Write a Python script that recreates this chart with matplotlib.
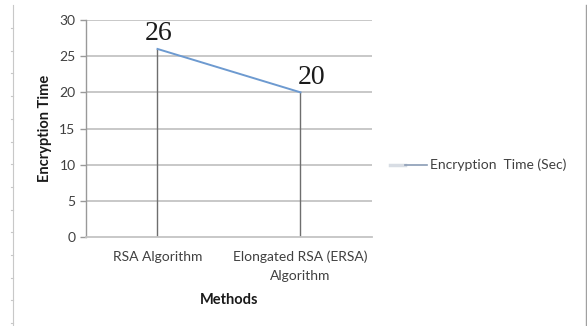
import matplotlib
matplotlib.use('Agg')
import matplotlib.pyplot as plt
from matplotlib.lines import Line2D

methods = ['RSA Algorithm', 'Elongated RSA (ERSA)\nAlgorithm']
enc_time = [26, 20]
y_ticks = [0, 5, 10, 15, 20, 25, 30]
series_name = 'Encryption  Time (Sec)'

plt.rcParams['font.family'] = ['Lato', 'DejaVu Sans']

fig = plt.figure(figsize=(5.87, 3.26), dpi=100)
ax = fig.add_axes([0.1465, 0.273, 0.4872, 0.6656])

x = list(range(len(methods)))

for yv in y_ticks[1:]:
    ax.axhline(yv, color='#c4c4c4', linewidth=1.3, zorder=1)

# drop lines from the points to the axis
ax.vlines(x, 0, enc_time, color='#6e6e6e', linewidth=1.0, zorder=2)
ax.plot(x, enc_time, color='#6d9ad0', linewidth=1.4, zorder=3)

ax.annotate(str(enc_time[0]), (x[0], enc_time[0]), xytext=(1, 2), textcoords='offset points',
            ha='center', va='bottom', fontsize=20, family='Liberation Serif', color='#1a1a1a')
ax.annotate(str(enc_time[1]), (x[1], enc_time[1]), xytext=(8, 2), textcoords='offset points',
            ha='center', va='bottom', fontsize=20, family='Liberation Serif', color='#1a1a1a')

ax.set_xlim(-0.5, 1.5)
ax.set_ylim(0, 30)
ax.set_yticks(y_ticks)
ax.set_xticks(x)
ax.set_xticklabels(methods, fontsize=10, color='#404040', linespacing=1.65)
ax.tick_params(axis='y', labelsize=10, labelcolor='#404040', color='#999999', length=4, width=1.0)
ax.tick_params(axis='x', length=0, pad=10)

for s in ['top', 'right']:
    ax.spines[s].set_visible(False)
ax.spines['left'].set_color('#999999')
ax.spines['bottom'].set_color('#c4c4c4')
ax.spines['left'].set_linewidth(1.0)
ax.spines['bottom'].set_linewidth(1.3)

ax.set_ylabel('Encryption Time', fontsize=10.5, fontweight='bold', color='#1a1a1a', labelpad=5)
ax.set_xlabel('Methods', fontsize=10.5, fontweight='bold', color='#1a1a1a', labelpad=8)

# legend entry
fig.add_artist(Line2D([390 / 587, 405 / 587], [1 - 165 / 326] * 2, color='#d8dde4', linewidth=2.5))
fig.add_artist(Line2D([405 / 587, 427 / 587], [1 - 165 / 326] * 2, color='#8a9cb5', linewidth=1.2))
fig.text(430 / 587, 1 - 165 / 326, series_name, fontsize=10, color='#404040', va='center', ha='left')

# page borders
fig.add_artist(Line2D([13 / 587] * 2, [0, 1 - 5 / 326], color='#c8c8c8', linewidth=0.8))
for i in range(14):
    yy = 1 - (28 + i * 22.7) / 326
    fig.add_artist(Line2D([11 / 587, 13 / 587], [yy, yy], color='#c8c8c8', linewidth=0.8))
fig.add_artist(Line2D([586 / 587] * 2, [0, 1 - 5 / 326], color='#a0a0a0', linewidth=1.0))

fig.savefig('out.png', dpi=100)
